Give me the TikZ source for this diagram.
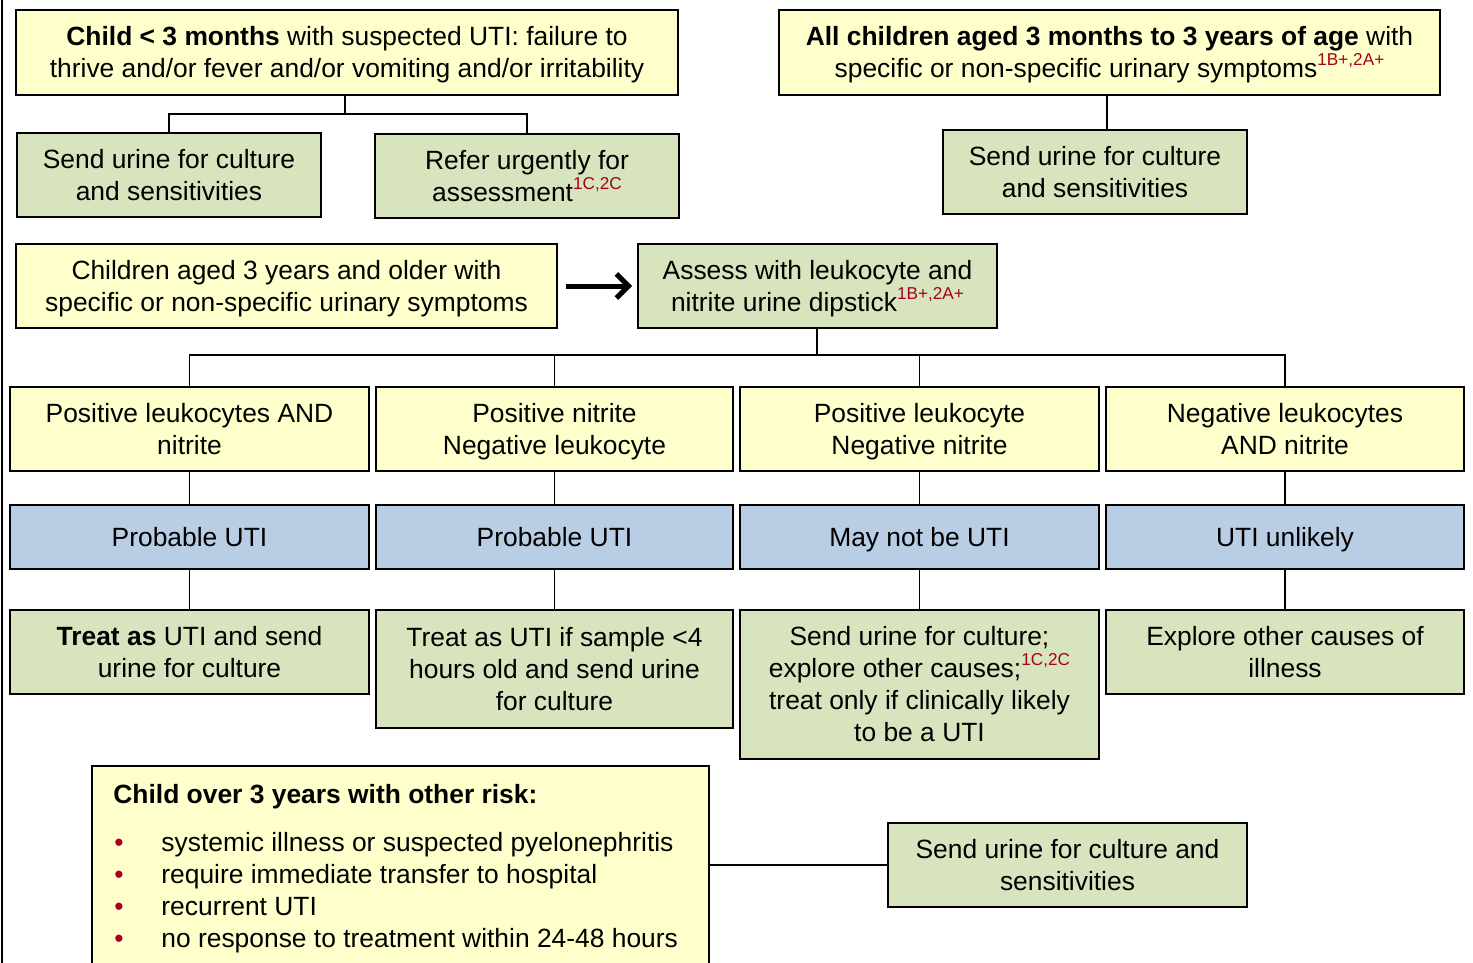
\documentclass[tikz,border=0pt]{standalone}
\usepackage{fontspec}
\setmainfont{Liberation Sans}
\usetikzlibrary{arrows.meta}
\definecolor{yfill}{HTML}{FFFFCC}
\definecolor{gfill}{HTML}{D7E4BD}
\definecolor{bfill}{HTML}{B9CDE5}
\definecolor{supred}{HTML}{A50021}
\newdimen\pxu \pxu=0.5pt
\newcommand{\gradesup}[1]{\raisebox{6pt}{\fontsize{8.6}{10}\selectfont\color{supred}#1}}
\newcommand{\bs}{\rule[-3.3pt]{0pt}{16pt}}
\tikzset{
  mainfont/.style={font={\fontsize{13.2}{16}\selectfont}},
  base/.style={draw=black, line width=1pt, inner sep=0pt, align=center, mainfont},
  ybox/.style={base, fill=yfill},
  gbox/.style={base, fill=gfill},
  bbox/.style={base, fill=bfill},
  conn/.style={draw=black, line width=0.7pt},
  bigarrow/.style={draw=black, line width=2.5pt, -{Straight Barb[length=6pt,width=12pt]}},
  txt/.style={inner sep=0pt, mainfont},
}
\begin{document}
\begin{tikzpicture}[x=0.5pt,y=-0.5pt]
\clip (0,0) rectangle (1473,963);
\fill[white] (0,0) rectangle (1473,963);
\draw[line width=1pt] (2,0) -- (2,963);

% top left
\node[ybox, minimum width=662\pxu, minimum height=85\pxu] (A) at (347,52.5)
  {\bs\textbf{Child < 3 months} with suspected UTI: failure to\\thrive and/or fever and/or vomiting and/or irritability\bs};
\node[gbox, minimum width=304\pxu, minimum height=84\pxu] (B) at (169,175)
  {\bs Send urine for culture\\and sensitivities\bs};
\node[gbox, minimum width=304\pxu, minimum height=84\pxu] (C) at (527,176)
  {\bs Refer urgently for\\assessment\gradesup{1C,2C}\bs};

% top right
\node[ybox, minimum width=661\pxu, minimum height=85\pxu] (D) at (1109.5,52.5)
  {\bs\textbf{All children aged 3 months to 3 years of age} with\\specific or non-specific urinary symptoms\gradesup{1B+,2A+}\bs};
\node[gbox, minimum width=304\pxu, minimum height=84\pxu] (E) at (1095,172)
  {\bs Send urine for culture\\and sensitivities\bs};

% middle
\node[ybox, minimum width=541\pxu, minimum height=84\pxu] (F) at (286.5,286)
  {\bs Children aged 3 years and older with\\specific or non-specific urinary symptoms\bs};
\node[gbox, minimum width=359\pxu, minimum height=84\pxu] (G) at (817.5,286)
  {\bs Assess with leukocyte and\\nitrite urine dipstick\gradesup{1B+,2A+}\bs};

% dipstick results
\node[ybox, minimum width=359\pxu, minimum height=84\pxu] (H1) at (189.5,429) {\bs Positive leukocytes AND\\nitrite\bs};
\node[ybox, minimum width=357\pxu, minimum height=84\pxu] (H2) at (554.5,429) {\bs Positive nitrite\\Negative leukocyte\bs};
\node[ybox, minimum width=359\pxu, minimum height=84\pxu] (H3) at (919.5,429) {\bs Positive leukocyte\\Negative nitrite\bs};
\node[ybox, minimum width=358\pxu, minimum height=84\pxu] (H4) at (1285,429) {\bs Negative leukocytes\\AND nitrite\bs};

% interpretation
\node[bbox, minimum width=359\pxu, minimum height=64\pxu] (I1) at (189.5,537) {\bs Probable UTI\bs};
\node[bbox, minimum width=357\pxu, minimum height=64\pxu] (I2) at (554.5,537) {\bs Probable UTI\bs};
\node[bbox, minimum width=359\pxu, minimum height=64\pxu] (I3) at (919.5,537) {\bs May not be UTI\bs};
\node[bbox, minimum width=358\pxu, minimum height=64\pxu] (I4) at (1285,537) {\bs UTI unlikely\bs};

% actions
\node[gbox, minimum width=359\pxu, minimum height=84\pxu] (J1) at (189.5,652) {\bs\textbf{Treat as} UTI and send\\urine for culture\bs};
\node[gbox, minimum width=357\pxu, minimum height=118\pxu] (J2) at (554.5,669) {\bs Treat as UTI if sample <4\\hours old and send urine\\for culture\bs};
\node[gbox, minimum width=359\pxu, minimum height=149\pxu] (J3) at (919.5,684.5) {\bs Send urine for culture;\\explore other causes;\gradesup{1C,2C}\\treat only if clinically likely\\to be a UTI\bs};
\node[gbox, minimum width=358\pxu, minimum height=84\pxu] (J4) at (1285,652) {\bs Explore other causes of\\illness\bs};

% bottom
\node[ybox, minimum width=617\pxu, minimum height=214\pxu] (K) at (400.5,873) {};
\node[txt, anchor=base west] (Kt) at (113,803) {\textbf{Child over 3 years with other risk:}};
\node[txt, anchor=base, text=supred] (Kb1) at (119,851) {•};
\node[txt, anchor=base, text=supred] (Kb2) at (119,883) {•};
\node[txt, anchor=base, text=supred] (Kb3) at (119,915) {•};
\node[txt, anchor=base, text=supred] (Kb4) at (119,947) {•};
\node[txt, anchor=base west] (K1) at (161,851) {systemic illness or suspected pyelonephritis};
\node[txt, anchor=base west] (K2) at (161,883) {require immediate transfer to hospital};
\node[txt, anchor=base west] (K3) at (161,915) {recurrent UTI};
\node[txt, anchor=base west] (K4) at (161,947) {no response to treatment within 24-48 hours};
\node[gbox, minimum width=359\pxu, minimum height=84\pxu] (L) at (1067.5,865) {\bs Send urine for culture and\\sensitivities\bs};

% connectors
\coordinate (ja) at (345,114);
\draw[conn] (A.south -| ja) -- (ja);
\draw[conn] (B.north) |- (ja) -| (C.north);

\coordinate (jd) at (1107,0);
\draw[conn] (D.south -| jd) -- (E.north -| jd);

\draw[bigarrow, shorten <=4pt, shorten >=2.5pt] (F.east) -- (G.west);

\coordinate (jg) at (817,355);
\draw[conn] (G.south -| jg) -- (jg);
\draw[conn] (H1.north) |- (jg) -| (H4.north);
\draw[conn] (H2.north) -- (H2.north |- jg);
\draw[conn] (H3.north) -- (H3.north |- jg);

\foreach \i in {1,2,3,4} {
  \draw[conn] (H\i.south) -- (I\i.north);
  \draw[conn] (I\i.south) -- (J\i.north);
}

\draw[conn] (L.west -| K.east) -- (L.west);
\end{tikzpicture}
\end{document}
